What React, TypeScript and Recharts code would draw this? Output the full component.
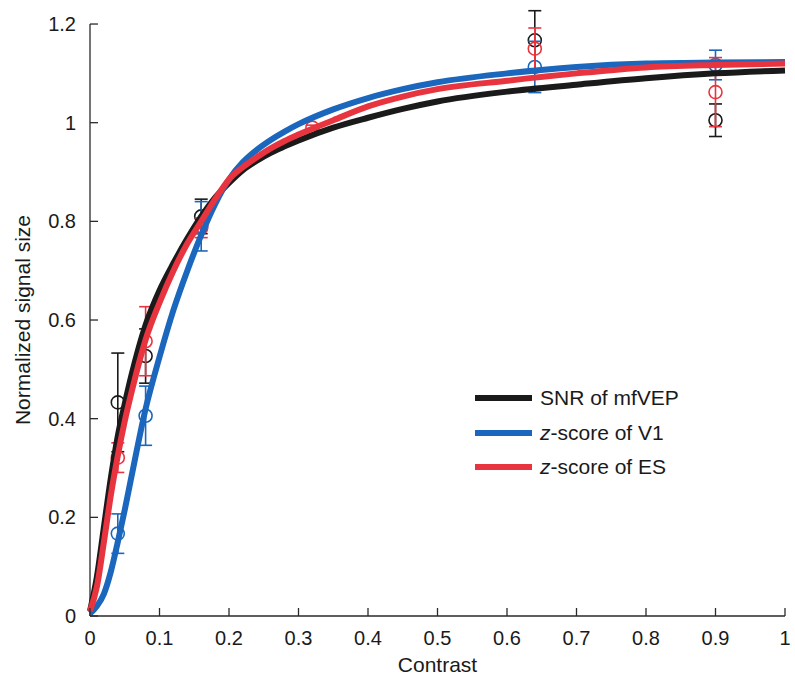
import React from 'react';
import {
  ComposedChart,
  Line,
  Scatter,
  ErrorBar,
  XAxis,
  YAxis,
  Legend,
  Label,
  ReferenceLine,
} from 'recharts';

// ---- fitted curves ----
const contrastGrid = [0, 0.01, 0.02, 0.03, 0.04, 0.05, 0.06, 0.08, 0.1, 0.12, 0.14, 0.16, 0.18, 0.2, 0.22, 0.24, 0.26, 0.28, 0.3, 0.35, 0.4, 0.45, 0.5, 0.6, 0.7, 0.8, 0.9, 1.0];
const snrCurve = [0.01, 0.08, 0.18, 0.28, 0.365, 0.43, 0.49, 0.59, 0.66, 0.715, 0.765, 0.81, 0.848, 0.878, 0.904, 0.923, 0.939, 0.952, 0.964, 0.99, 1.01, 1.028, 1.043, 1.063, 1.077, 1.09, 1.1, 1.106];
const v1Curve = [0.005, 0.02, 0.045, 0.09, 0.15, 0.215, 0.285, 0.42, 0.525, 0.62, 0.7, 0.772, 0.835, 0.885, 0.92, 0.945, 0.965, 0.982, 0.997, 1.027, 1.05, 1.068, 1.082, 1.1, 1.113, 1.12, 1.122, 1.123];
const esCurve = [0.01, 0.06, 0.15, 0.245, 0.325, 0.395, 0.455, 0.56, 0.635, 0.7, 0.755, 0.8, 0.845, 0.885, 0.91, 0.93, 0.948, 0.963, 0.976, 1.005, 1.033, 1.053, 1.068, 1.085, 1.1, 1.112, 1.117, 1.12];

// ---- measured points with error bars ----
const markerContrast = [0.04, 0.08, 0.16, 0.32, 0.64, 0.9];
const snrMean = [0.433, 0.527, 0.81, null, 1.167, 1.005];
const snrErr = [0.1, 0.055, 0.035, null, 0.06, 0.033];
const v1Mean = [0.167, 0.406, 0.79, null, 1.113, 1.117];
const v1Err = [0.04, 0.06, 0.05, null, 0.052, 0.03];
const esMean = [0.321, 0.557, 0.787, 0.99, 1.15, 1.062];
const esErr = [0.03, 0.07, 0.02, 0.005, 0.042, 0.07];

// ---- ticks ----
const xTicks = [0, 0.1, 0.2, 0.3, 0.4, 0.5, 0.6, 0.7, 0.8, 0.9, 1];
const xTickLabels = ['0', '0.1', '0.2', '0.3', '0.4', '0.5', '0.6', '0.7', '0.8', '0.9', '1'];
const yTicks = [0, 0.2, 0.4, 0.6, 0.8, 1, 1.2];
const yTickLabels = ['0', '0.2', '0.4', '0.6', '0.8', '1', '1.2'];

// ---- legend text ----
const seriesItalic = ['', 'z', 'z'];
const seriesText = ['SNR of mfVEP', '-score of V1', '-score of ES'];

const FONT = '"Liberation Sans", Arial, Helvetica, sans-serif';
const COLORS = ['#1a1a1a', '#1a67bd', '#e8343f'];
const AXIS = '#2a2a2a';

const curveRows = contrastGrid.map((c, i) => ({ c, snr: snrCurve[i], v1: v1Curve[i], es: esCurve[i] }));

const makePoints = (means: (number | null)[], errs: (number | null)[]) =>
  markerContrast
    .map((c, i) => ({ c, y: means[i], err: errs[i] }))
    .filter((p) => p.y != null);

const snrPoints = makePoints(snrMean, snrErr);
const v1Points = makePoints(v1Mean, v1Err);
const esPoints = makePoints(esMean, esErr);

const fmt = (ticks: number[], labels: string[]) => (v: number) => {
  const i = ticks.findIndex((t) => Math.abs(t - v) < 1e-9);
  return i >= 0 ? labels[i] : String(v);
};

const ring = (color: string) => (props: any) => (
  <circle cx={props.cx} cy={props.cy} r={6.5} fill="none" stroke={color} strokeWidth={1.6} />
);

const LegendBox = () => (
  <div style={{ fontFamily: FONT, fontSize: 21, color: '#1a1a1a' }}>
    {seriesText.map((t, i) => (
      <div key={i} style={{ height: 34.5, display: 'flex', alignItems: 'center' }}>
        <div style={{ width: 57, height: 6, background: COLORS[i], marginRight: 8 }} />
        <span>
          {seriesItalic[i] ? <i>{seriesItalic[i]}</i> : null}
          {t}
        </span>
      </div>
    ))}
  </div>
);

export default function App() {
  return (
    <div style={{ position: 'absolute', left: 0, top: 0, background: '#fff' }}>
      <ComposedChart
        width={795}
        height={689}
        data={curveRows}
        margin={{ top: 4.3, right: 10, left: 40, bottom: 13 }}
      >
        <XAxis
          type="number"
          dataKey="c"
          domain={[0, 1]}
          ticks={xTicks}
          tickFormatter={fmt(xTicks, xTickLabels)}
          height={60}
          tickSize={-8}
          tickMargin={23}
          stroke={AXIS}
          strokeWidth={1.3}
          tick={{ fontSize: 20, fill: '#1a1a1a', fontFamily: FONT }}
          interval={0}
        >
          <Label
            content={(p: any) => {
              const vb = p.viewBox;
              return (
                <text
                  x={vb.x + vb.width / 2}
                  y={vb.y + 56}
                  textAnchor="middle"
                  fontSize={21}
                  fontFamily={FONT}
                  fill="#1a1a1a"
                >
                  Contrast
                </text>
              );
            }}
          />
        </XAxis>
        <YAxis
          type="number"
          dataKey="y"
          domain={[0, 1.24]}
          ticks={yTicks}
          tickFormatter={fmt(yTicks, yTickLabels)}
          width={50}
          tickSize={-8}
          tickMargin={22}
          axisLine={false}
          stroke={AXIS}
          strokeWidth={1.3}
          tick={{ fontSize: 20, fill: '#1a1a1a', fontFamily: FONT }}
          interval={0}
        >
          <Label
            content={(p: any) => {
              const vb = p.viewBox;
              const x = vb.x - 18;
              const y = vb.y + vb.height - 296;
              return (
                <text
                  x={x}
                  y={y}
                  transform={`rotate(-90, ${x}, ${y})`}
                  textAnchor="middle"
                  dominantBaseline="central"
                  fontSize={21}
                  fontFamily={FONT}
                  fill="#1a1a1a"
                >
                  Normalized signal size
                </text>
              );
            }}
          />
        </YAxis>
        <ReferenceLine
          segment={[
            { x: 0, y: 0 },
            { x: 0, y: 1.2 },
          ]}
          stroke={AXIS}
          strokeWidth={1.3}
        />

        <Scatter data={snrPoints} shape={ring(COLORS[0])} isAnimationActive={false} zIndex={300}>
          <ErrorBar dataKey="err" direction="y" width={6.5} stroke={COLORS[0]} strokeWidth={1.6} zIndex={300} />
        </Scatter>
        <Scatter data={v1Points} shape={ring(COLORS[1])} isAnimationActive={false} zIndex={300}>
          <ErrorBar dataKey="err" direction="y" width={6.5} stroke={COLORS[1]} strokeWidth={1.6} zIndex={300} />
        </Scatter>
        <Scatter data={esPoints} shape={ring(COLORS[2])} isAnimationActive={false} zIndex={300}>
          <ErrorBar dataKey="err" direction="y" width={6.5} stroke={COLORS[2]} strokeWidth={1.6} zIndex={300} />
        </Scatter>

        <Line type="monotone" dataKey="snr" stroke={COLORS[0]} strokeWidth={6} dot={false} activeDot={false} isAnimationActive={false} strokeLinejoin="round" />
        <Line type="monotone" dataKey="v1" stroke={COLORS[1]} strokeWidth={6} dot={false} activeDot={false} isAnimationActive={false} strokeLinejoin="round" />
        <Line type="monotone" dataKey="es" stroke={COLORS[2]} strokeWidth={6} dot={false} activeDot={false} isAnimationActive={false} strokeLinejoin="round" />

        <Legend
          layout="vertical"
          align="center"
          verticalAlign="middle"
          wrapperStyle={{ left: 475, top: 380.75, width: 260, height: 104 }}
          content={() => <LegendBox />}
        />
      </ComposedChart>
    </div>
  );
}
